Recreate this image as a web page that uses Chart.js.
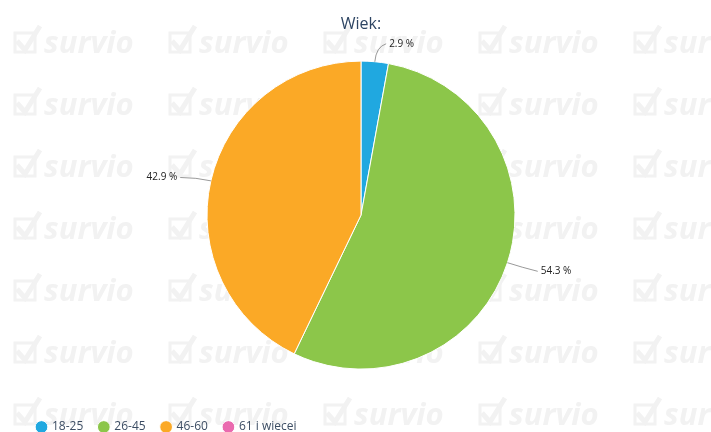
<!DOCTYPE html>
<html>
<head>
<meta charset="utf-8">
<script src="https://cdn.jsdelivr.net/npm/chart.js@4/dist/chart.umd.min.js"></script>
<style>
  html, body { margin: 0; padding: 0; background: #fff; }
  #wrap { width: 711px; height: 432px; position: relative; }
</style>
</head>
<body>
<div id="wrap"><canvas id="chart" width="711" height="432"></canvas></div>
<script>
const categories = ['18-25', '26-45', '46-60', '61 i wiecei'];
const counts = [1, 19, 15, 0];
const percentLabels = ['2.9 %', '54.3 %', '42.9 %', '0 %'];
const colors = ['#20a8e0', '#8cc64a', '#fba926', '#ea6aaf'];

// faint "survio" watermark tiled behind everything
const watermark = {
    id: 'watermark',
    beforeDraw(chart) {
        const ctx = chart.ctx;
        ctx.save();
        ctx.fillStyle = '#f2f2f2';
        ctx.strokeStyle = '#f2f2f2';
        ctx.font = 'italic bold 31px "Open Sans", sans-serif';
        ctx.textBaseline = 'alphabetic';
        for (let row = 0; row < 8; row++) {
            for (let col = 0; col < 5; col++) {
                const x = 13 + col * 155;
                const y = 53 + row * 62;
                ctx.lineWidth = 3;
                ctx.strokeRect(x + 2, y - 20, 20, 19);
                ctx.lineWidth = 5;
                ctx.beginPath();
                ctx.moveTo(x + 4, y - 12);
                ctx.lineTo(x + 12, y - 3);
                ctx.lineTo(x + 27, y - 27);
                ctx.stroke();
                ctx.fillText('survio', x + 31, y);
            }
        }
        ctx.restore();
    }
};

// outside labels with connector lines
const outLabels = {
    id: 'outLabels',
    afterDatasetsDraw(chart) {
        const ctx = chart.ctx;
        const meta = chart.getDatasetMeta(0);
        ctx.save();
        ctx.font = '10px "Open Sans", sans-serif';
        ctx.fillStyle = '#222';
        ctx.strokeStyle = '#999';
        ctx.lineWidth = 1;
        ctx.textBaseline = 'middle';
        meta.data.forEach((arc, i) => {
            if (!counts[i]) return;
            const mid = (arc.startAngle + arc.endAngle) / 2;
            const r = arc.outerRadius;
            const x0 = arc.x + Math.cos(mid) * r;
            const y0 = arc.y + Math.sin(mid) * r;
            const x1 = arc.x + Math.cos(mid) * (r + 15);
            const y1 = arc.y + Math.sin(mid) * (r + 15);
            const right = Math.cos(mid) >= 0;
            const s = Math.sin(mid);
            const ty = y1 + (s > 0.2 ? 4 : (s < -0.9 ? -3 : 0));
            const dx = s < -0.9 ? 10 : 16;
            const x2 = right ? x1 + dx : x1 - dx;
            ctx.beginPath();
            ctx.moveTo(x0, y0);
            ctx.quadraticCurveTo(x1, y1, x2, ty);
            ctx.stroke();
            ctx.textAlign = right ? 'left' : 'right';
            ctx.fillText(percentLabels[i], right ? x2 + 3 : x2 - 3, ty);
        });
        ctx.restore();
    }
};

new Chart(document.getElementById('chart'), {
    type: 'pie',
    data: {
        labels: categories,
        datasets: [{
            data: counts,
            backgroundColor: colors,
            borderColor: '#ffffff',
            borderWidth: 1
        }]
    },
    options: {
        responsive: false,
        animation: false,
        radius: 154,
        layout: { padding: { left: 21, right: 10, top: 0, bottom: -11 } },
        plugins: {
            title: {
                display: true,
                text: 'Wiek:',
                color: '#2e4563',
                font: { family: '"Open Sans", sans-serif', size: 16, weight: 'normal' },
                padding: { top: 15, bottom: -9 }
            },
            legend: {
                position: 'bottom',
                align: 'start',
                labels: {
                    usePointStyle: true,
                    pointStyle: 'circle',
                    boxWidth: 9,
                    boxHeight: 9,
                    padding: 16,
                    color: '#3c4d63',
                    font: { family: '"Open Sans", sans-serif', size: 12 }
                }
            },
            tooltip: { enabled: false }
        }
    },
    plugins: [watermark, outLabels]
});
</script>
</body>
</html>
